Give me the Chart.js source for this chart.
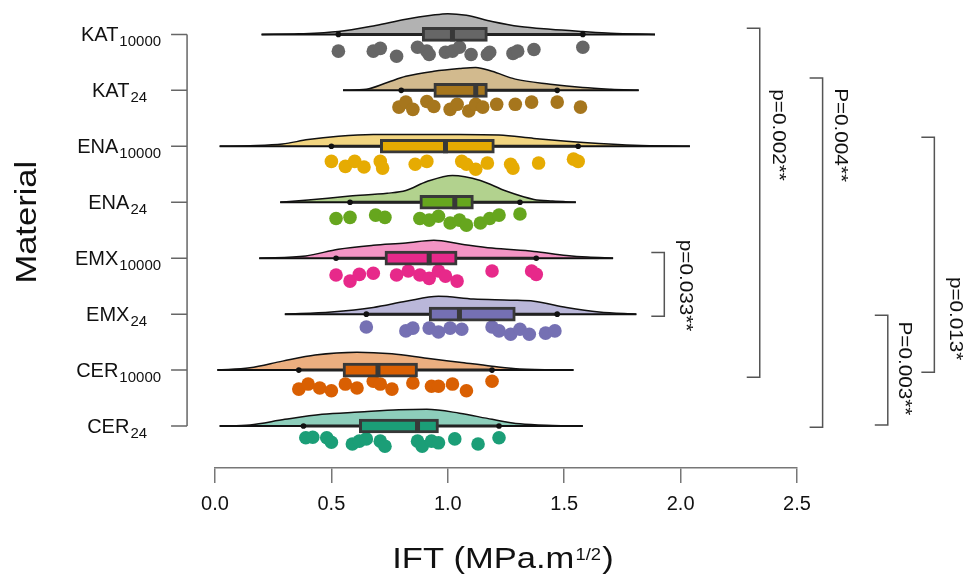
<!DOCTYPE html>
<html>
<head>
<meta charset="utf-8">
<script src="https://cdn.jsdelivr.net/npm/chart.js@4.4.1/dist/chart.umd.min.js"></script>
<style>
  html, body { margin: 0; padding: 0; background: #fff; }
  canvas { display: block; }
</style>
</head>
<body>
<canvas id="chart" width="973" height="585"></canvas>
<script>
// Materials, top to bottom
const materials = ['KAT', 'KAT', 'ENA', 'ENA', 'EMX', 'EMX', 'CER', 'CER'];
const ageing = ['10000', '24', '10000', '24', '10000', '24', '10000', '24'];

const pointColors = ['#666666', '#a6761d', '#e6ab02', '#66a61e', '#e7298a', '#7570b3', '#d95f02', '#1b9e77'];
const cloudColors = ['rgba(102,102,102,0.5)', 'rgba(166,118,29,0.5)', 'rgba(230,171,2,0.5)', 'rgba(102,166,30,0.5)',
                     'rgba(231,41,138,0.5)', 'rgba(117,112,179,0.5)', 'rgba(217,95,2,0.5)', 'rgba(27,158,119,0.5)'];

// Box plot stats (IFT, MPa.m^1/2)
const whiskerLow  = [0.53, 0.80, 0.50, 0.58, 0.52, 0.65, 0.36, 0.38];
const q1          = [0.89, 0.94, 0.71, 0.88, 0.73, 0.92, 0.55, 0.62];
const median      = [1.02, 1.12, 0.99, 1.03, 0.92, 1.05, 0.70, 0.87];
const q3          = [1.17, 1.17, 1.20, 1.11, 1.04, 1.29, 0.87, 0.96];
const whiskerHigh = [1.58, 1.47, 1.56, 1.31, 1.38, 1.47, 1.19, 1.22];

// Half-violin (cloud) outline: x positions and density height (in row units)
const cloudX = [
  [0.20, 0.36, 0.53, 0.69, 0.82, 0.93, 1.00, 1.08, 1.19, 1.31, 1.44, 1.58, 1.70, 1.89],
  [0.55, 0.65, 0.74, 0.82, 0.94, 1.05, 1.12, 1.19, 1.29, 1.44, 1.58, 1.70, 1.82],
  [0.02, 0.15, 0.29, 0.40, 0.53, 0.68, 0.86, 1.05, 1.22, 1.37, 1.51, 1.65, 1.80, 2.04],
  [0.28, 0.40, 0.58, 0.74, 0.82, 0.91, 1.02, 1.14, 1.25, 1.37, 1.45, 1.55],
  [0.19, 0.39, 0.53, 0.68, 0.82, 0.94, 1.06, 1.19, 1.37, 1.51, 1.60, 1.71],
  [0.30, 0.50, 0.68, 0.82, 0.96, 1.11, 1.27, 1.37, 1.51, 1.65, 1.81],
  [0.01, 0.15, 0.29, 0.43, 0.61, 0.76, 0.91, 1.05, 1.19, 1.31, 1.54],
  [0.02, 0.15, 0.30, 0.46, 0.62, 0.79, 0.91, 1.05, 1.19, 1.31, 1.45, 1.58]
];
const cloudDensity = [
  [0, 0.01, 0.05, 0.16, 0.27, 0.34, 0.37, 0.34, 0.23, 0.14, 0.09, 0.05, 0.02, 0],
  [0, 0.02, 0.14, 0.25, 0.34, 0.39, 0.41, 0.34, 0.20, 0.11, 0.05, 0.02, 0],
  [0, 0.01, 0.04, 0.12, 0.18, 0.21, 0.21, 0.21, 0.20, 0.14, 0.09, 0.05, 0.02, 0],
  [0, 0.04, 0.11, 0.16, 0.21, 0.37, 0.48, 0.39, 0.20, 0.05, 0.02, 0],
  [0, 0.04, 0.16, 0.23, 0.27, 0.32, 0.25, 0.18, 0.12, 0.05, 0.02, 0],
  [0, 0.04, 0.12, 0.23, 0.32, 0.27, 0.25, 0.23, 0.12, 0.04, 0],
  [0, 0.04, 0.16, 0.27, 0.32, 0.29, 0.21, 0.14, 0.07, 0.02, 0],
  [0, 0.02, 0.12, 0.21, 0.25, 0.29, 0.30, 0.23, 0.12, 0.04, 0.01, 0]
];

// Raw observations (rain) and their vertical jitter below the row line (row units)
const pointsX = [
  [0.53, 0.68, 0.71, 0.78, 0.87, 0.91, 0.92, 0.99, 1.02, 1.05, 1.10, 1.17, 1.18, 1.28, 1.30, 1.37, 1.58],
  [0.79, 0.82, 0.85, 0.91, 0.94, 1.01, 1.04, 1.09, 1.12, 1.15, 1.21, 1.29, 1.36, 1.47, 1.57],
  [0.50, 0.56, 0.60, 0.64, 0.71, 0.72, 0.86, 0.91, 1.06, 1.08, 1.12, 1.17, 1.27, 1.28, 1.39, 1.54, 1.56],
  [0.52, 0.58, 0.69, 0.73, 0.88, 0.92, 0.96, 1.01, 1.05, 1.08, 1.14, 1.18, 1.22, 1.31],
  [0.52, 0.58, 0.62, 0.68, 0.78, 0.83, 0.88, 0.92, 0.96, 0.99, 1.04, 1.19, 1.36, 1.38],
  [0.65, 0.82, 0.85, 0.92, 0.96, 1.01, 1.06, 1.19, 1.22, 1.27, 1.31, 1.35, 1.42, 1.46],
  [0.36, 0.40, 0.45, 0.50, 0.56, 0.61, 0.68, 0.71, 0.76, 0.85, 0.93, 0.96, 1.02, 1.08, 1.19],
  [0.39, 0.42, 0.48, 0.50, 0.59, 0.62, 0.65, 0.71, 0.73, 0.87, 0.89, 0.93, 0.96, 1.03, 1.13, 1.22]
];
const pointsJitter = [
  [0.30, 0.30, 0.25, 0.39, 0.23, 0.30, 0.36, 0.32, 0.30, 0.23, 0.36, 0.36, 0.32, 0.34, 0.30, 0.27, 0.23],
  [0.30, 0.21, 0.34, 0.20, 0.29, 0.34, 0.25, 0.37, 0.25, 0.30, 0.25, 0.25, 0.21, 0.21, 0.30],
  [0.27, 0.36, 0.27, 0.37, 0.27, 0.39, 0.32, 0.27, 0.27, 0.32, 0.41, 0.30, 0.32, 0.39, 0.30, 0.23, 0.27],
  [0.29, 0.27, 0.23, 0.27, 0.29, 0.32, 0.25, 0.37, 0.32, 0.41, 0.37, 0.29, 0.23, 0.21],
  [0.30, 0.41, 0.29, 0.27, 0.30, 0.23, 0.30, 0.36, 0.23, 0.32, 0.41, 0.23, 0.23, 0.29],
  [0.23, 0.30, 0.25, 0.25, 0.32, 0.25, 0.27, 0.23, 0.30, 0.36, 0.27, 0.36, 0.34, 0.30],
  [0.34, 0.25, 0.32, 0.37, 0.25, 0.32, 0.20, 0.25, 0.34, 0.23, 0.29, 0.29, 0.25, 0.37, 0.20],
  [0.21, 0.20, 0.21, 0.29, 0.32, 0.27, 0.23, 0.27, 0.36, 0.27, 0.36, 0.27, 0.30, 0.23, 0.32, 0.21]
];

// Significance brackets (x and y in data units)
const bracketLabels = ['p=0.002**', 'P=0.004**', 'p=0.013*', 'P=0.003**', 'p=0.033**'];
const bracketX      = [2.34, 2.61, 3.09, 2.89, 1.93];
const bracketTop    = [-0.11, 0.78, 1.84, 5.02, 3.90];
const bracketBottom = [6.13, 7.02, 6.04, 6.98, 5.04];
const labelX        = [2.42, 2.685, 3.18, 2.96, 2.02];
const labelY        = [1.80, 1.80, 5.08, 5.97, 4.49];

const xTicks = [0, 0.5, 1.0, 1.5, 2.0, 2.5];

const FONT = "'Liberation Sans', Arial, sans-serif";
Chart.defaults.font.family = FONT;

// Build datasets
const datasets = [];
materials.forEach((m, i) => {
  const xs = cloudX[i];
  // cloud
  datasets.push({
    type: 'line',
    data: xs.map((v, k) => ({ x: v, y: i - cloudDensity[i][k] })),
    borderColor: '#111',
    borderWidth: 1.5,
    backgroundColor: cloudColors[i],
    fill: { value: i },
    pointRadius: 0,
    cubicInterpolationMode: 'monotone',
    order: 6,
    clip: false
  });
  // baseline across the cloud range
  datasets.push({
    type: 'line',
    data: [{ x: xs[0], y: i }, { x: xs[xs.length - 1], y: i }],
    borderColor: '#111',
    borderWidth: 2,
    pointRadius: 0,
    order: 5,
    clip: false
  });
  // whisker
  datasets.push({
    type: 'line',
    data: [{ x: whiskerLow[i], y: i }, { x: whiskerHigh[i], y: i }],
    borderColor: '#222',
    borderWidth: 3,
    pointRadius: 0,
    order: 4,
    clip: false
  });
  // rain
  datasets.push({
    type: 'scatter',
    data: pointsX[i].map((v, k) => ({ x: v, y: i + pointsJitter[i][k] })),
    backgroundColor: pointColors[i],
    borderWidth: 0,
    pointRadius: 6.8,
    order: 3,
    clip: false
  });
});

// whisker end caps
datasets.push({
  type: 'scatter',
  data: materials.flatMap((m, i) => [{ x: whiskerLow[i], y: i }, { x: whiskerHigh[i], y: i }]),
  backgroundColor: '#111',
  borderWidth: 0,
  pointRadius: 2.8,
  order: 2,
  clip: false
});

// boxes (floating bars)
datasets.push({
  type: 'bar',
  indexAxis: 'y',
  data: materials.map((m, i) => ({ x: [q1[i], q3[i]], y: i })),
  backgroundColor: pointColors,
  borderColor: '#383838',
  borderWidth: 3,
  borderSkipped: false,
  barThickness: 14,
  order: 1,
  clip: false
});

// medians
datasets.push({
  type: 'scatter',
  data: materials.map((m, i) => ({ x: median[i], y: i })),
  pointStyle: 'line',
  rotation: 90,
  pointRadius: 7,
  borderWidth: 5,
  borderColor: '#383838',
  order: 0,
  clip: false
});

// Decorations: y axis with subscript labels, axis titles, brackets
const decor = {
  id: 'decor',
  afterDraw(chart) {
    const { ctx, scales: { x, y } } = chart;
    ctx.save();

    // y axis line + ticks
    const axX = x.getPixelForValue(-0.12);
    ctx.strokeStyle = '#666';
    ctx.lineWidth = 1.5;
    ctx.beginPath();
    ctx.moveTo(axX, y.getPixelForValue(0));
    ctx.lineTo(axX, y.getPixelForValue(materials.length - 1));
    materials.forEach((m, i) => {
      const py = y.getPixelForValue(i);
      ctx.moveTo(axX - 16, py);
      ctx.lineTo(axX, py);
    });
    ctx.stroke();

    // y labels with subscripts
    ctx.fillStyle = '#111';
    ctx.textBaseline = 'alphabetic';
    ctx.textAlign = 'left';
    materials.forEach((m, i) => {
      const py = y.getPixelForValue(i);
      const right = axX - 26 - (ageing[i].length < 3 ? 14 : 0);
      ctx.font = '15px ' + FONT;
      const sw = ctx.measureText(ageing[i]).width;
      ctx.fillText(ageing[i], right - sw, py + 12);
      ctx.font = '20px ' + FONT;
      const mw = ctx.measureText(m).width;
      ctx.fillText(m, right - sw - mw - 1, py + 7);
    });

    // y title
    ctx.save();
    ctx.translate(36, (y.getPixelForValue(0) + y.getPixelForValue(7)) / 2 - 8);
    ctx.rotate(-Math.PI / 2);
    ctx.scale(1.15, 1);
    ctx.font = '30px ' + FONT;
    ctx.textAlign = 'center';
    ctx.fillText('Material', 0, 0);
    ctx.restore();

    // x title with superscript
    ctx.save();
    const cx = (chart.chartArea.left + chart.chartArea.right) / 2 - 3;
    ctx.font = '30px ' + FONT;
    const w1 = ctx.measureText('IFT (MPa.m').width;
    const w3 = ctx.measureText(')').width;
    ctx.font = '16px ' + FONT;
    const w2 = ctx.measureText('1/2').width;
    const total = (w1 + w2 + w3 + 2) * 1.15;
    ctx.translate(cx - total / 2, 568);
    ctx.scale(1.15, 1);
    ctx.font = '30px ' + FONT;
    ctx.fillText('IFT (MPa.m', 0, 0);
    ctx.font = '16px ' + FONT;
    ctx.fillText('1/2', w1 + 1, -8);
    ctx.font = '30px ' + FONT;
    ctx.fillText(')', w1 + w2 + 2, 0);
    ctx.restore();

    // brackets
    ctx.strokeStyle = '#555';
    ctx.lineWidth = 1.5;
    bracketLabels.forEach((lab, b) => {
      const bx = x.getPixelForValue(bracketX[b]);
      const t = y.getPixelForValue(bracketTop[b]);
      const btm = y.getPixelForValue(bracketBottom[b]);
      ctx.beginPath();
      ctx.moveTo(bx - 13, t);
      ctx.lineTo(bx, t);
      ctx.lineTo(bx, btm);
      ctx.lineTo(bx - 13, btm);
      ctx.stroke();

      ctx.save();
      ctx.translate(x.getPixelForValue(labelX[b]), y.getPixelForValue(labelY[b]));
      ctx.rotate(Math.PI / 2);
      ctx.scale(1.15, 1);
      ctx.font = '18px ' + FONT;
      ctx.textAlign = 'center';
      ctx.textBaseline = 'middle';
      ctx.fillStyle = '#111';
      ctx.fillText(lab, 0, 0);
      ctx.restore();
    });

    ctx.restore();
  }
};

new Chart(document.getElementById('chart'), {
  type: 'scatter',
  data: { datasets },
  options: {
    responsive: false,
    animation: false,
    devicePixelRatio: 1,
    events: [],
    layout: { padding: { left: 215, right: 176, top: 10.5, bottom: 60 } },
    plugins: { legend: { display: false }, tooltip: { enabled: false } },
    scales: {
      x: {
        type: 'linear',
        min: 0,
        max: 2.5,
        offset: false,
        afterBuildTicks: (scale) => { scale.ticks = xTicks.map(v => ({ value: v })); },
        ticks: {
          callback: (v) => v.toFixed(1),
          font: { size: 20 },
          color: '#111',
          padding: 9,
          maxRotation: 0,
          autoSkip: false
        },
        grid: { drawOnChartArea: false, drawTicks: true, tickLength: 15, color: '#777', lineWidth: 1.5 },
        border: { display: true, color: '#777', width: 1.5 }
      },
      y: {
        type: 'linear',
        reverse: true,
        min: -0.4,
        max: 7.75,
        offset: false,
        display: false
      }
    }
  },
  plugins: [decor]
});
</script>
</body>
</html>
